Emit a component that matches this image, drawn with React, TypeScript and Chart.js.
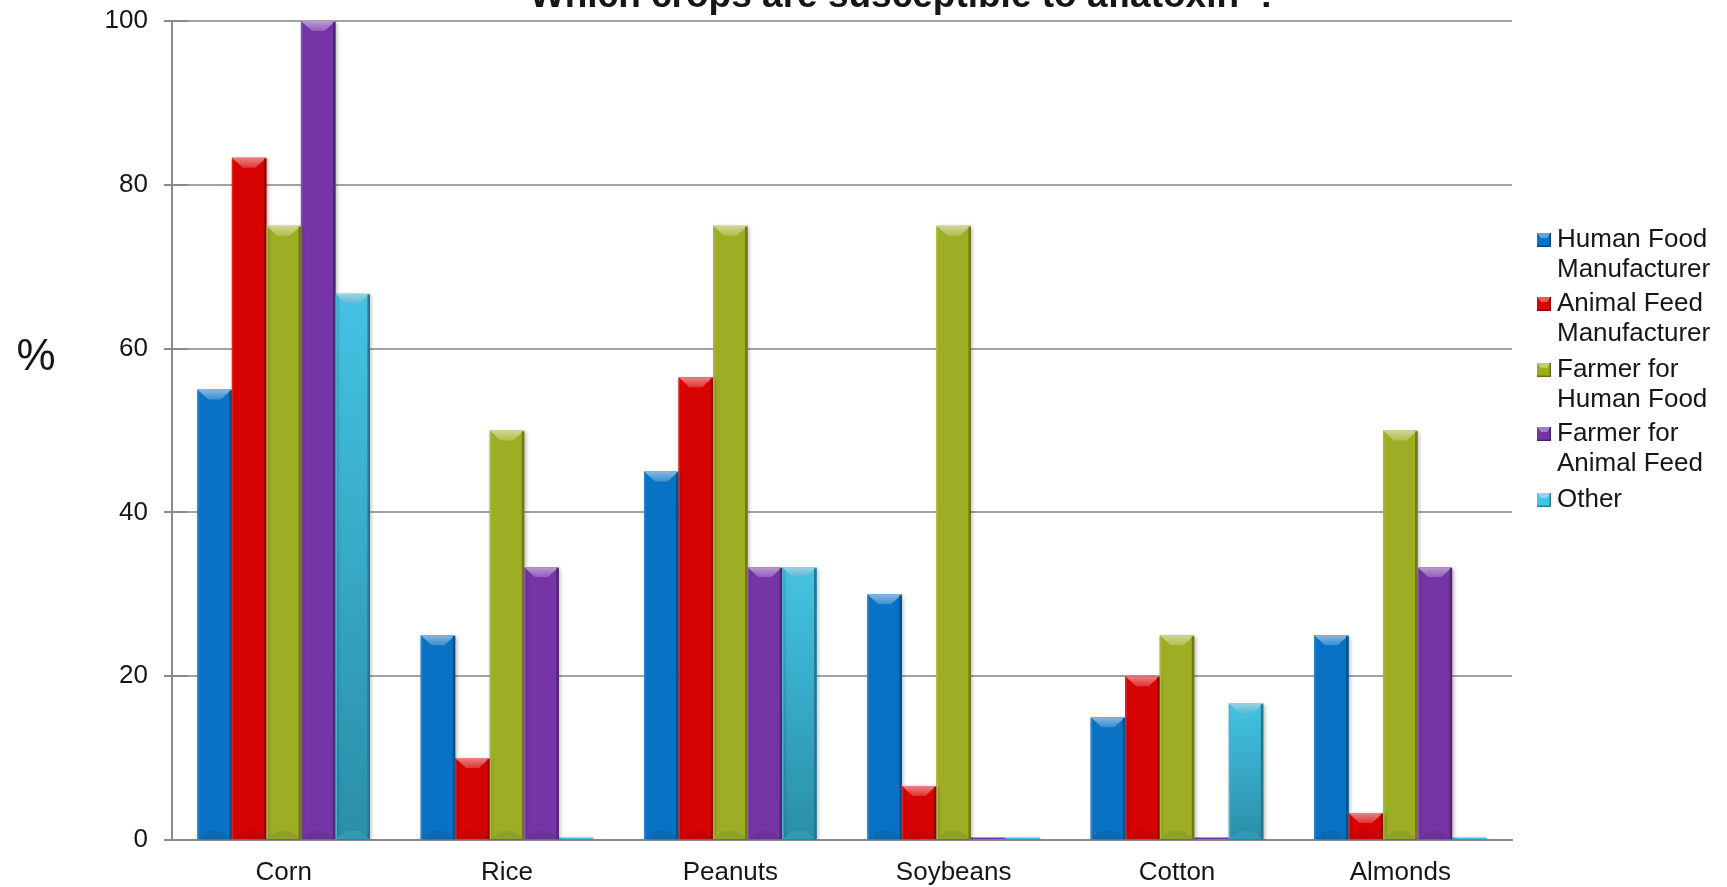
import React, { useEffect, useRef } from "react";
import { Chart, registerables } from "chart.js";

Chart.register(...registerables);

// Crops surveyed and the share (%) of each respondent group naming them
const crops = ["Corn", "Rice", "Peanuts", "Soybeans", "Cotton", "Almonds"];

const humanFoodManufacturer = [55, 25, 45, 30, 15, 25];
const animalFeedManufacturer = [83.3, 10, 56.5, 6.6, 20, 3.3];
const farmerHumanFood = [75, 50, 75, 75, 25, 50];
const farmerAnimalFeed = [100, 33.3, 33.3, 0.3, 0.3, 33.3];
const other = [66.7, 0.3, 33.3, 0.3, 16.7, 0.3];

const seriesNames: string[][] = [
  ["Human Food", "Manufacturer"],
  ["Animal Feed", "Manufacturer"],
  ["Farmer for", "Human Food"],
  ["Farmer for", "Animal Feed"],
  ["Other"],
];

const yTicks = [0, 20, 40, 60, 80, 100];

const titleText = "Which crops are susceptible to aflatoxin";
const yAxisLabel = "%";

const FONT = "'Liberation Sans', Arial, Helvetica, sans-serif";
const TEXT = "#161616";

const palette = ["#0A72C5", "#D70303", "#9DAE25", "#7535A7", "#33A9C9"];
const otherTop = "#44C3E3";
const otherBottom = "#2A8EA8";

function hexToRgb(h: string) {
  const n = parseInt(h.slice(1), 16);
  return [(n >> 16) & 255, (n >> 8) & 255, n & 255];
}
function mix(h: string, target: number, t: number) {
  const [r, g, b] = hexToRgb(h);
  const f = (c: number) => Math.round(c + (target - c) * t);
  return `rgb(${f(r)},${f(g)},${f(b)})`;
}

const otherFill = (ctx: any) => {
  if (ctx.type !== "data") return palette[4];
  const chart = ctx.chart;
  if (!chart.chartArea) return palette[4];
  const ys = chart.scales.y;
  const top = ys.getPixelForValue(ctx.parsed.y);
  const bottom = ys.getPixelForValue(0);
  if (bottom - top < 3) return otherTop;
  const g = chart.ctx.createLinearGradient(0, top, 0, bottom);
  g.addColorStop(0, otherTop);
  g.addColorStop(1, otherBottom);
  return g;
};

// Bevelled look for each bar: light top facet, darker right edge and bottom facet
const bevelPlugin = {
  id: "bevel",
  beforeDatasetsDraw(chart: any) {
    const c = chart.ctx;
    c.save();
    c.shadowColor = "rgba(0,0,0,0.28)";
    c.shadowBlur = 4;
    c.shadowOffsetX = 1.5;
    c.shadowOffsetY = 1.5;
  },
  afterDatasetsDraw(chart: any) {
    const c = chart.ctx;
    c.restore();
    chart.data.datasets.forEach((ds: any, di: number) => {
      const meta = chart.getDatasetMeta(di);
      const base = palette[di];
      meta.data.forEach((el: any) => {
        const { x, y, base: b, width } = el.getProps(["x", "y", "base", "width"], true);
        const left = x - width / 2;
        const right = x + width / 2;
        const h = b - y;
        if (h < 3) return;
        const d = Math.min(10, h / 2.2);
        const inset = Math.min(11, width / 3);
        c.save();
        // top facet
        const tg = c.createLinearGradient(0, y, 0, y + d);
        tg.addColorStop(0, mix(base, 255, 0.5));
        tg.addColorStop(1, mix(base, 255, 0.2));
        c.fillStyle = tg;
        c.beginPath();
        c.moveTo(left, y);
        c.lineTo(right, y);
        c.lineTo(right - inset, y + d);
        c.lineTo(left + inset, y + d);
        c.closePath();
        c.fill();
        // bottom facet
        const bd = Math.min(8, h / 3);
        c.fillStyle = mix(base, 0, 0.08);
        c.beginPath();
        c.moveTo(left + inset, b - bd);
        c.lineTo(right - inset, b - bd);
        c.lineTo(right, b);
        c.lineTo(left, b);
        c.closePath();
        c.fill();
        // right edge
        c.fillStyle = mix(base, 0, 0.3);
        c.fillRect(right - 2.5, y + 1, 2.5, h - 1);
        // left edge highlight
        c.fillStyle = mix(base, 255, 0.12);
        c.fillRect(left, y + 1, 1.5, h - 1);
        c.restore();
      });
    });
  },
};

// Title, axis label, inner tick marks and the wrapped legend
const decorPlugin = {
  id: "decor",
  afterDraw(chart: any) {
    const c = chart.ctx;
    const ys = chart.scales.y;
    const area = chart.chartArea;
    c.save();

    // inner tick segments on the value axis
    c.strokeStyle = "#8a8a8a";
    c.lineWidth = 2;
    yTicks.forEach((v) => {
      const py = Math.round(ys.getPixelForValue(v));
      c.beginPath();
      c.moveTo(area.left, py);
      c.lineTo(area.left + 16, py);
      c.stroke();
    });

    // title (with superscript asterisk)
    c.fillStyle = TEXT;
    c.textBaseline = "alphabetic";
    c.font = `bold 37px ${FONT}`;
    const w1 = c.measureText(titleText).width;
    c.font = `bold 22px ${FONT}`;
    const w2 = c.measureText("*").width + 8;
    c.font = `bold 37px ${FONT}`;
    const w3 = c.measureText("?").width;
    const total = w1 + w2 + w3;
    const cx = 904;
    const tx = cx - total / 2;
    c.textAlign = "left";
    c.fillText(titleText, tx, 7);
    c.font = `bold 22px ${FONT}`;
    c.fillText("*", tx + w1 + 2, -9);
    c.font = `bold 37px ${FONT}`;
    c.fillText("?", tx + w1 + w2, 7);

    // axis label
    c.font = `44px ${FONT}`;
    c.textAlign = "center";
    c.textBaseline = "middle";
    c.fillText(yAxisLabel, 36, 358);

    // legend
    c.font = `26px ${FONT}`;
    c.textAlign = "left";
    c.textBaseline = "middle";
    const ys0 = [240, 304, 370, 434, 500];
    seriesNames.forEach((lines, i) => {
      const cy = ys0[i];
      const sx = 1537;
      const sy = cy - 7;
      const col = i === 4 ? otherTop : palette[i];
      c.fillStyle = col;
      c.fillRect(sx, sy, 14, 14);
      c.fillStyle = mix(col, 255, 0.35);
      c.beginPath();
      c.moveTo(sx, sy);
      c.lineTo(sx + 14, sy);
      c.lineTo(sx + 10, sy + 5);
      c.lineTo(sx + 4, sy + 5);
      c.closePath();
      c.fill();
      c.fillStyle = mix(col, 0, 0.35);
      c.fillRect(sx + 12.5, sy, 1.5, 14);
      c.fillRect(sx, sy + 12.5, 14, 1.5);
      c.fillStyle = TEXT;
      lines.forEach((t, k) => c.fillText(t, 1557, cy + k * 30));
    });
    c.restore();
  },
};

export default function App() {
  const ref = useRef<HTMLCanvasElement | null>(null);

  useEffect(() => {
    if (!ref.current) return;
    const chart = new Chart(ref.current, {
      type: "bar",
      data: {
        labels: crops,
        datasets: [
          { label: seriesNames[0].join(" "), data: humanFoodManufacturer, backgroundColor: palette[0] },
          { label: seriesNames[1].join(" "), data: animalFeedManufacturer, backgroundColor: palette[1] },
          { label: seriesNames[2].join(" "), data: farmerHumanFood, backgroundColor: palette[2] },
          { label: seriesNames[3].join(" "), data: farmerAnimalFeed, backgroundColor: palette[3] },
          { label: seriesNames[4].join(" "), data: other, backgroundColor: otherFill as any },
        ],
      },
      options: {
        animation: false,
        responsive: false,
        devicePixelRatio: 1,
        layout: { padding: { left: 0, right: 215, top: 21, bottom: 0 } },
        datasets: { bar: { categoryPercentage: 0.773, barPercentage: 1.0, borderWidth: 0 } },
        plugins: {
          legend: { display: false },
          title: { display: false },
          tooltip: { enabled: false },
        },
        scales: {
          x: {
            grid: { display: false, drawTicks: false },
            border: { display: true, color: "#8a8a8a", width: 2 },
            ticks: { color: TEXT, font: { family: FONT, size: 26 }, padding: 17 },
            afterFit: (s: any) => {
              s.height = 47;
              s.paddingLeft = 0;
              s.paddingRight = 0;
            },
          },
          y: {
            min: 0,
            max: 100,
            afterBuildTicks: (s: any) => {
              s.ticks = yTicks.map((v) => ({ value: v }));
            },
            grid: { color: "#a3a3a3", lineWidth: 2, tickLength: 8, tickColor: "#8a8a8a" },
            border: { display: true, color: "#8a8a8a", width: 2 },
            ticks: { color: TEXT, font: { family: FONT, size: 26 }, padding: 16 },
            afterFit: (s: any) => {
              s.width = 172;
              s.paddingTop = 0;
              s.paddingBottom = 0;
            },
          },
        },
      },
      plugins: [bevelPlugin, decorPlugin],
    });
    return () => chart.destroy();
  }, []);

  return (
    <div style={{ position: "absolute", left: 0, top: 0, width: 1727, height: 887, background: "#fff" }}>
      <canvas ref={ref} width={1727} height={887} style={{ display: "block" }} />
    </div>
  );
}
